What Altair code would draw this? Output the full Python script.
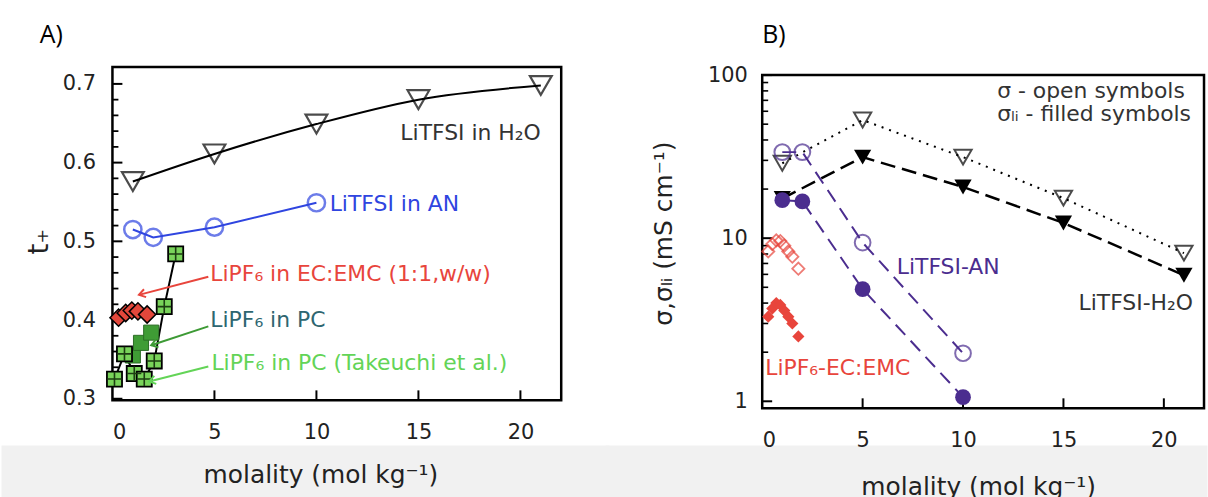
import altair as alt
import pandas as pd

FONT = "DejaVu Sans"
TXT = "#222222"

# ---------------- Panel A : t+ vs molality ----------------
a_h2o_m = [1, 5, 10, 15, 21]
a_h2o_t = [0.576, 0.611, 0.649, 0.680, 0.698]
a_an_m = [1, 2, 5, 10]
a_an_t = [0.515, 0.505, 0.518, 0.549]
a_ec_m = [0.3, 0.65, 0.95, 1.25, 1.7]
a_ec_t = [0.403, 0.409, 0.412, 0.411, 0.407]
a_pc_m = [1.0, 1.4, 1.9]
a_pc_t = [0.355, 0.371, 0.384]
a_tk_m = [0.1, 0.59, 1.07, 1.56, 2.05, 2.54, 3.1]
a_tk_t = [0.325, 0.357, 0.332, 0.325, 0.348, 0.417, 0.484]

a_y_major = [0.3, 0.4, 0.5, 0.6, 0.7]
a_y_minor = [0.32, 0.34, 0.36, 0.38, 0.42, 0.44, 0.46, 0.48, 0.52, 0.54, 0.56, 0.58,
             0.62, 0.64, 0.66, 0.68]
x_ticks = [0, 5, 10, 15, 20]
x_inner_ticks = [5, 10, 15, 20]

a_labels = ["LiTFSI in H\u2082O", "LiTFSI in AN", "LiPF\u2086 in EC:EMC (1:1,w/w)",
            "LiPF\u2086 in PC", "LiPF\u2086 in PC (Takeuchi et al.)"]
a_label_m = [21.0, 10.65, 4.8, 4.8, 4.85]
a_label_v = [0.638, 0.548, 0.459, 0.400, 0.346]
a_label_align = ["right", "left", "left", "left", "left"]
a_label_col = ["#333333", "#2f45e0", "#e8453c", "#2e6670", "#63d457"]

a_arrow_m = [4.7, 4.7, 4.7]
a_arrow_v = [0.455, 0.392, 0.341]
a_arrow_m2 = [1.3, 1.9, 1.8]
a_arrow_v2 = [0.432, 0.368, 0.322]
a_arrow_ang = [165, 162, 166]
a_arrow_col = ["#e8453c", "#3d9a35", "#63d457"]

# ---------------- Panel B : conductivities ----------------
b_h2o_m = [1, 5, 10, 15, 21]
b_h2o_sig = [28.8, 53.0, 31.4, 17.6, 8.1]
b_h2o_li = [17.5, 31.4, 20.6, 12.4, 5.93]
b_an_m = [1, 2, 5, 10]
b_an_sig = [33.7, 33.7, 9.4, 1.97]
b_an_li = [17.1, 16.8, 4.87, 1.06]
b_ec_m = [0.3, 0.5, 0.7, 0.9, 1.1, 1.3, 1.5, 1.8]
b_ec_sig = [8.3, 9.2, 9.7, 9.6, 9.0, 8.3, 7.7, 6.5]
b_ec_li = [3.3, 3.7, 4.0, 3.9, 3.6, 3.3, 3.0, 2.5]

b_y_major = [1, 10, 100]
b_y_minor = [2, 3, 4, 5, 6, 7, 8, 9, 20, 30, 40, 50, 60, 70, 80, 90]

b_labels = ["\u03c3 - open symbols", "\u03c3\u2097\u1d62 - filled symbols", "LiTFSI-AN",
            "LiTFSI-H\u2082O", "LiPF\u2086-EC:EMC"]
b_label_m = [11.7, 11.7, 6.7, 15.75, 0.15]
b_label_v = [80.0, 57.5, 6.7, 4.0, 1.59]
b_label_col = ["#333333", "#333333", "#4b2d8f", "#333333", "#e8453c"]

RED = "#e8453c"
PURPLE = "#4b2d8f"
BLUE = "#2f45e0"
STRIP = "#f1f1f1"

WA, HA = 451, 335          # panel A plot area
WB, HB = 444, 343          # panel B group (frame drawn 8px lower)
B_TOP = 8
STRIP_TOP = 382

LBL = 21
ANN = 22
TTL = 25


def df(**cols):
    return pd.DataFrame(cols)


def x_enc(title_x, title_pad):
    return alt.X("m:Q", scale=alt.Scale(domain=[0, 22], nice=False, zero=False),
                 axis=alt.Axis(values=x_ticks, ticks=False, domain=False, grid=False,
                               labelPadding=21, labelFont=FONT, labelFontSize=LBL,
                               labelColor=TXT, title="molality (mol kg\u207b\u00b9)",
                               titleFont=FONT, titleFontSize=TTL, titleFontWeight="normal",
                               titleColor=TXT, titlePadding=title_pad, titleX=title_x,
                               titleAlign="center", zindex=1))


def label_chart(txt, x, y):
    return alt.Chart(df(t=[txt])).mark_text(
        align="left", baseline="middle", font="Open Sans", fontSize=25,
        color="black").encode(x=alt.value(x), y=alt.value(y), text="t:N")


def strip(x_from, x_to):
    return alt.Chart(df(k=[0])).mark_rect(fill=STRIP, stroke=STRIP, strokeWidth=3,
                                          opacity=1).encode(
        x=alt.value(x_from), x2=alt.value(x_to), y=alt.value(STRIP_TOP), y2=alt.value(460))


xA = x_enc(209, 21)
yA = alt.Y("v:Q", scale=alt.Scale(domain=[0.298, 0.7215], nice=False, zero=False),
           axis=alt.Axis(values=a_y_major, format=".1f", ticks=False, domain=False,
                         grid=False, labelPadding=17, labelFont=FONT, labelFontSize=LBL,
                         labelColor=TXT, title="t\u208a", titleFont=FONT, titleFontSize=28,
                         titleFontWeight="normal", titleColor=TXT, titleX=-73, titleY=175,
                         titleAngle=270, titleAlign="center", titleBaseline="middle",
                         zindex=1))

# tick marks (inward)
a_tmaj = alt.Chart(df(v=a_y_major)).mark_rule(color="black", strokeWidth=2).encode(
    y=yA, x=alt.value(0), x2=alt.value(10))
a_tmin = alt.Chart(df(v=a_y_minor)).mark_rule(color="black", strokeWidth=1.8).encode(
    y=yA, x=alt.value(0), x2=alt.value(6))
a_tx = alt.Chart(df(m=x_inner_ticks)).mark_rule(color="black", strokeWidth=2).encode(
    x=xA, y=alt.value(HA), y2=alt.value(HA - 10))

a_h2o = df(m=a_h2o_m, v=a_h2o_t)
a_h2o_line = alt.Chart(a_h2o).mark_line(color="black", strokeWidth=2,
                                        interpolate="monotone").encode(x=xA, y=yA)
a_h2o_pts = alt.Chart(a_h2o).mark_point(shape="triangle-down", size=480, color="black",
                                        strokeWidth=2.2, filled=False).encode(x=xA, y=yA)
a_an = df(m=a_an_m, v=a_an_t)
a_an_line = alt.Chart(a_an).mark_line(color=BLUE, strokeWidth=2).encode(x=xA, y=yA)
a_an_pts = alt.Chart(a_an).mark_point(shape="circle", size=300, color=BLUE,
                                      strokeWidth=2.5, filled=False).encode(x=xA, y=yA)
a_tk = df(m=a_tk_m, v=a_tk_t)
a_tk_line = alt.Chart(a_tk).mark_line(color="black", strokeWidth=2).encode(x=xA, y=yA)
a_pc = df(m=a_pc_m, v=a_pc_t)
a_pc_pts = alt.Chart(a_pc).mark_point(shape="square", size=230, filled=True, opacity=1,
                                      fill="#3f9c35", stroke="#2b6e25",
                                      strokeWidth=1).encode(x=xA, y=yA)
a_tk_pts = alt.Chart(a_tk).mark_point(shape="square", size=230, filled=True, opacity=1,
                                      fill="#79d35a", stroke="black",
                                      strokeWidth=1.8).encode(x=xA, y=yA)
a_tk_grid = alt.Chart(a_tk).mark_point(shape="M-1,0L1,0M0,-1L0,1", size=200, filled=False,
                                       color="#1d3d12", strokeWidth=1.6,
                                       opacity=1).encode(x=xA, y=yA)
a_ec = df(m=a_ec_m, v=a_ec_t)
a_ec_pts = alt.Chart(a_ec).mark_point(shape="diamond", size=300, filled=True, opacity=1,
                                      fill="#e2473b", stroke="black",
                                      strokeWidth=1.5).encode(x=xA, y=yA)

a_lab = df(m=a_label_m, v=a_label_v, t=a_labels, c=a_label_col, al=a_label_align)
a_txt = alt.Chart(a_lab).transform_filter("datum.al == 'left'").mark_text(
    align="left", baseline="middle", font=FONT, fontSize=ANN).encode(
    x=xA, y=yA, text="t:N", color=alt.Color("c:N", scale=None))
a_txt_r = alt.Chart(a_lab).transform_filter("datum.al == 'right'").mark_text(
    align="right", baseline="middle", font=FONT, fontSize=ANN).encode(
    x=xA, y=yA, text="t:N", color=alt.Color("c:N", scale=None))

arr = df(m=a_arrow_m, v=a_arrow_v, m2=a_arrow_m2, v2=a_arrow_v2, c=a_arrow_col)
a_arr_line = alt.Chart(arr).mark_rule(strokeWidth=2).encode(
    x=xA, y=yA, x2="m2:Q", y2="v2:Q", color=alt.Color("c:N", scale=None))
heads = df(m=a_arrow_m2, v=a_arrow_v2, ang=a_arrow_ang, c=a_arrow_col)
a_arr_head = alt.Chart(heads).mark_point(shape="M-1,-0.65L0,0L-1,0.65", size=160,
                                         filled=False, strokeWidth=2, opacity=1).encode(
    x=xA, y=yA, angle=alt.Angle("ang:Q", scale=None), color=alt.Color("c:N", scale=None))

panelA = alt.layer(
    strip(-110, WA + 47),
    a_tmaj, a_tmin, a_tx, a_h2o_line, a_h2o_pts, a_an_line, a_an_pts,
    a_tk_line, a_pc_pts, a_tk_pts, a_tk_grid, a_ec_pts,
    a_arr_line, a_arr_head, a_txt, a_txt_r, label_chart("A)", -73, -32)
).properties(width=WA, height=HA)

# ---------------- Panel B ----------------
xB = x_enc(217, 25)
yB = alt.Y("v:Q", scale=alt.Scale(type="log", domain=[0.906, 112.1], nice=False),
           axis=alt.Axis(values=b_y_major, format="d", ticks=False, domain=False,
                         grid=False, labelPadding=15, labelFont=FONT, labelFontSize=LBL,
                         labelColor=TXT, title="\u03c3,\u03c3\u2097\u1d62 (mS cm\u207b\u00b9)",
                         titleFont=FONT, titleFontSize=TTL, titleFontWeight="normal",
                         titleColor=TXT, titleX=-99, titleY=167, titleAngle=270,
                         titleAlign="center", titleBaseline="middle", zindex=1))

b_frame = alt.Chart(df(k=[0])).mark_rect(filled=False, stroke="black", strokeWidth=2.5).encode(
    x=alt.value(0), x2=alt.value(WB), y=alt.value(B_TOP), y2=alt.value(HB))
b_tmaj = alt.Chart(df(v=b_y_major)).mark_rule(color="black", strokeWidth=2).encode(
    y=yB, x=alt.value(0), x2=alt.value(10))
b_tmin = alt.Chart(df(v=b_y_minor)).mark_rule(color="black", strokeWidth=1.6).encode(
    y=yB, x=alt.value(0), x2=alt.value(6))
b_tx = alt.Chart(df(m=x_inner_ticks)).mark_rule(color="black", strokeWidth=2).encode(
    x=xB, y=alt.value(HB), y2=alt.value(HB - 10))

bh_s = df(m=b_h2o_m, v=b_h2o_sig)
bh_l = df(m=b_h2o_m, v=b_h2o_li)
ba_s = df(m=b_an_m, v=b_an_sig)
ba_l = df(m=b_an_m, v=b_an_li)
be_s = df(m=b_ec_m, v=b_ec_sig)
be_l = df(m=b_ec_m, v=b_ec_li)

b_lines = [
    alt.Chart(bh_s).mark_line(color="black", strokeWidth=2, strokeDash=[2, 6]).encode(x=xB, y=yB),
    alt.Chart(bh_l).mark_line(color="black", strokeWidth=2.5, strokeDash=[15, 7]).encode(x=xB, y=yB),
    alt.Chart(ba_s).mark_line(color=PURPLE, strokeWidth=2, strokeDash=[14, 8]).encode(x=xB, y=yB),
    alt.Chart(ba_l).mark_line(color=PURPLE, strokeWidth=2, strokeDash=[14, 8]).encode(x=xB, y=yB),
]
b_pts = [
    alt.Chart(bh_s).mark_point(shape="triangle-down", size=300, color="black", strokeWidth=2,
                               filled=False).encode(x=xB, y=yB),
    alt.Chart(bh_l).mark_point(shape="triangle-down", size=300, color="black", filled=True,
                               opacity=1).encode(x=xB, y=yB),
    alt.Chart(be_s).mark_point(shape="diamond", size=150, color=RED, strokeWidth=1.8,
                               filled=False).encode(x=xB, y=yB),
    alt.Chart(be_l).mark_point(shape="diamond", size=150, color=RED, filled=True,
                               opacity=1).encode(x=xB, y=yB),
    alt.Chart(ba_s).mark_point(shape="circle", size=250, color=PURPLE, strokeWidth=2,
                               filled=False).encode(x=xB, y=yB),
    alt.Chart(ba_l).mark_point(shape="circle", size=250, color=PURPLE, filled=True,
                               opacity=1).encode(x=xB, y=yB),
]
b_txt = alt.Chart(df(m=b_label_m, v=b_label_v, t=b_labels, c=b_label_col)).mark_text(
    align="left", baseline="middle", font=FONT, fontSize=ANN).encode(
    x=xB, y=yB, text="t:N", color=alt.Color("c:N", scale=None))

panelB = alt.layer(strip(-156, WB + 2), b_frame, b_tmaj, b_tmin, b_tx, *b_lines, *b_pts,
                   b_txt, label_chart("B)", 0, -32)).properties(
    width=WB, height=HB, view=alt.ViewBackground(strokeWidth=0, strokeOpacity=0))

chart = alt.hconcat(panelA, panelB, spacing=-6).properties(
    padding={"left": 0, "top": 20, "right": 0, "bottom": 0},
    background="white"
).configure_view(stroke="black", strokeWidth=2.5)

chart.save("out.html", embed_options={"renderer": "svg", "actions": False})
